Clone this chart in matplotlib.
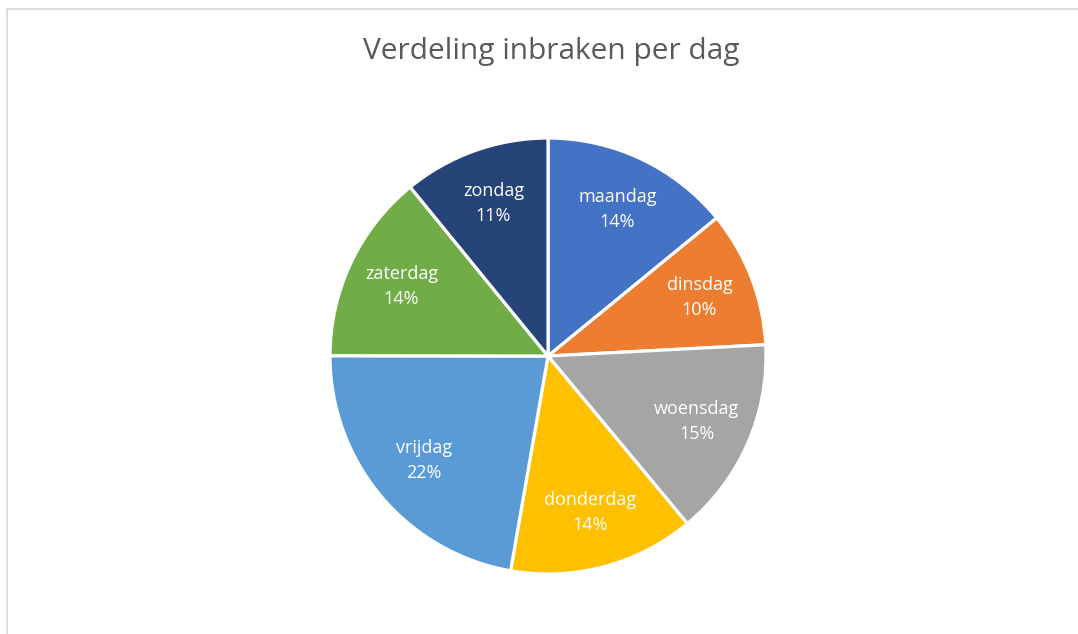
import matplotlib.pyplot as plt
from matplotlib.lines import Line2D

plt.rcParams['font.family'] = ['Open Sans', 'DejaVu Sans']

# data
dagen = ['maandag', 'dinsdag', 'woensdag', 'donderdag', 'vrijdag', 'zaterdag', 'zondag']
aandeel = [14.1, 10.1, 14.8, 13.8, 22.3, 14.1, 10.9]
kleuren = ['#4472C4', '#ED7D31', '#A5A5A5', '#FFC000', '#5B9BD5', '#70AD47', '#264478']

fig = plt.figure(figsize=(10.78, 6.34), dpi=100)
ax = fig.add_axes([0.3061, 0.0946, 0.4045, 0.6877])

totaal = sum(aandeel)
labels = [f"{d}\n{round(v / totaal * 100):.0f}%" for d, v in zip(dagen, aandeel)]

wedges, texts = ax.pie(aandeel, colors=kleuren, startangle=90, counterclock=False,
                       labels=labels, labeldistance=0.745,
                       wedgeprops=dict(edgecolor='white', linewidth=2.3),
                       textprops=dict(color='white', fontsize=13, ha='center', va='center',
                                      linespacing=1.5))
for t in texts:
    t.set_horizontalalignment('center')
ax.set_xlim(-1.0, 1.0)
ax.set_ylim(-1.0, 1.0)
ax.set_aspect('equal')

fig.text(0.511, 0.918, 'Verdeling inbraken per dag', ha='center', va='center',
         fontsize=21.5, color='#595959')

# rand van de grafiek (alleen boven en links zichtbaar)
fig.add_artist(Line2D([7 / 1078, 1.0], [1 - 9 / 634, 1 - 9 / 634], color='#D9D9D9', lw=1.2))
fig.add_artist(Line2D([7 / 1078, 7 / 1078], [0, 1 - 9 / 634], color='#D9D9D9', lw=1.2))

fig.savefig('out.png', dpi=100, facecolor='white')
